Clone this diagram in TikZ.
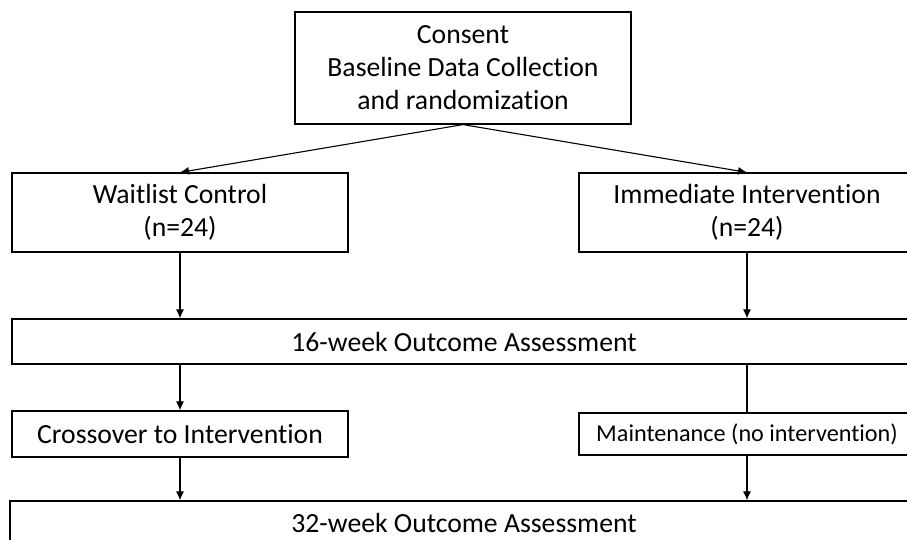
\documentclass[tikz,border=0pt]{standalone}
\usepackage{fontspec}
\setmainfont[Ligatures={NoCommon}]{Carlito}
\usetikzlibrary{arrows.meta}
\begin{document}
\begin{tikzpicture}[x=1pt,y=-1pt,
  box/.style={draw=black,line width=1.2pt,rectangle,inner sep=0pt,align=center,
    font=\fontsize{27.7}{33}\selectfont},
  conn/.style={line width=1.1pt,-{Latex[length=9pt,width=8pt]}},
  plain/.style={line width=1.1pt}]
\useasboundingbox (0,0) rectangle (907,540);
\clip (0,0) rectangle (907,540);
\node[box,minimum width=336pt,minimum height=112pt] (top) at (463,68)
  {Consent\\Baseline Data Collection\\and randomization};
\node[box,minimum width=336pt,minimum height=79pt] (wait) at (180,212.5)
  {Waitlist Control\\(n=24)};
\node[box,minimum width=336pt,minimum height=79pt] (imm) at (747,212.5)
  {Immediate Intervention\\(n=24)};
\node[box,minimum width=904pt,minimum height=45pt] (w16) at (464,341.5)
  {16-week Outcome Assessment};
\node[box,minimum width=336pt,minimum height=46pt] (cross) at (180,434)
  {Crossover to Intervention};
\node[box,minimum width=336pt,minimum height=42pt,font=\fontsize{24.2}{29}\selectfont] (maint) at (747,434)
  {Maintenance (no intervention)};
\node[box,minimum width=908pt,minimum height=44pt] (w32) at (464,523)
  {32-week Outcome Assessment};
\draw[conn] (top.south) -- (wait.north);
\draw[conn] (top.south) -- (imm.north);
\draw[conn] (wait.south) -- (wait.south |- w16.north);
\draw[conn] (imm.south) -- (imm.south |- w16.north);
\draw[conn] (w16.south -| cross.north) -- (cross.north);
\draw[plain] (w16.south -| maint.north) -- (maint.north);
\draw[conn] (cross.south) -- (cross.south |- w32.north);
\draw[conn] (maint.south) -- (maint.south |- w32.north);
\end{tikzpicture}
\end{document}
